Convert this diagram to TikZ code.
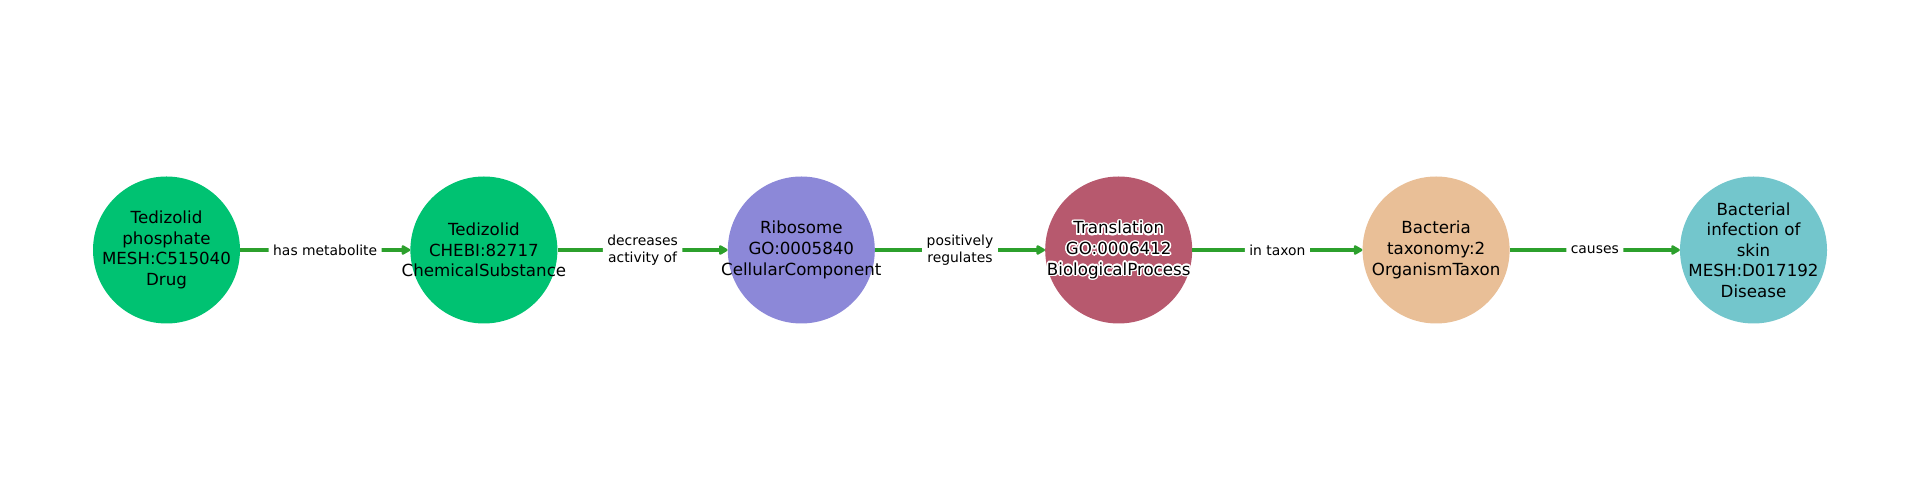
\documentclass[tikz,border=0pt]{standalone}
\usepackage{fontspec}
\setmainfont{DejaVu Sans}
\usetikzlibrary{arrows.meta}
\definecolor{cdrug}{RGB}{0,194,114}
\definecolor{ccell}{RGB}{140,136,216}
\definecolor{cproc}{RGB}{183,89,110}
\definecolor{ctaxon}{RGB}{233,191,151}
\definecolor{cdis}{RGB}{115,198,204}
\definecolor{cedge}{RGB}{44,160,44}
\tikzset{
  circ/.style={circle, draw=none, minimum size=147pt, inner sep=0pt},
  ntext/.style={align=center, inner sep=0pt, font=\fontsize{16.67}{20.6}\selectfont},
  edge/.style={draw=cedge, line width=3.8pt, -{Triangle[length=10pt,width=10.5pt,round]}},
  elabel/.style={fill=white, rounded corners=3pt, align=center, inner xsep=4.5pt, inner ysep=2pt, font=\fontsize{13.89}{16.7}\selectfont, text=black}
}
\begin{document}
\begin{tikzpicture}[x=1pt,y=1pt]
\useasboundingbox (0,0) rectangle (1920,500);
\node[circ, fill=cdrug]  (a) at (166.5,250) {};
\node[circ, fill=cdrug]  (b) at (483.9,250) {};
\node[circ, fill=ccell]  (c) at (801.3,250) {};
\node[circ, fill=cproc]  (d) at (1118.7,250) {};
\node[circ, fill=ctaxon] (e) at (1436.1,250) {};
\node[circ, fill=cdis]   (f) at (1753.5,250) {};
\node[ntext] (ta) at (a) {Tedizolid\\phosphate\\MESH:C515040\\Drug};
\node[ntext] (tb) at (b) {Tedizolid\\CHEBI:82717\\ChemicalSubstance};
\node[ntext] (tc) at (c) {Ribosome\\GO:0005840\\CellularComponent};
\foreach \ang in {0,22.5,...,337.5}
  \node[ntext, text=white] at ([shift={(\ang:1.5pt)}]d.center) {Translation\\GO:0006412\\BiologicalProcess};
\node[ntext] (td) at (d) {Translation\\GO:0006412\\BiologicalProcess};
\node[ntext] (te) at (e) {Bacteria\\taxonomy:2\\OrganismTaxon};
\node[ntext] (tf) at (f) {Bacterial\\infection of\\skin\\MESH:D017192\\Disease};
\draw[edge] (a) -- node[elabel] (la) {has metabolite} (b);
\draw[edge] (b) -- node[elabel] (lb) {decreases\\activity of} (c);
\draw[edge] (c) -- node[elabel] (lc) {positively\\regulates} (d);
\draw[edge] (d) -- node[elabel] (ld) {in taxon} (e);
\draw[edge] (e) -- node[elabel] (le) {causes} (f);
\end{tikzpicture}
\end{document}
